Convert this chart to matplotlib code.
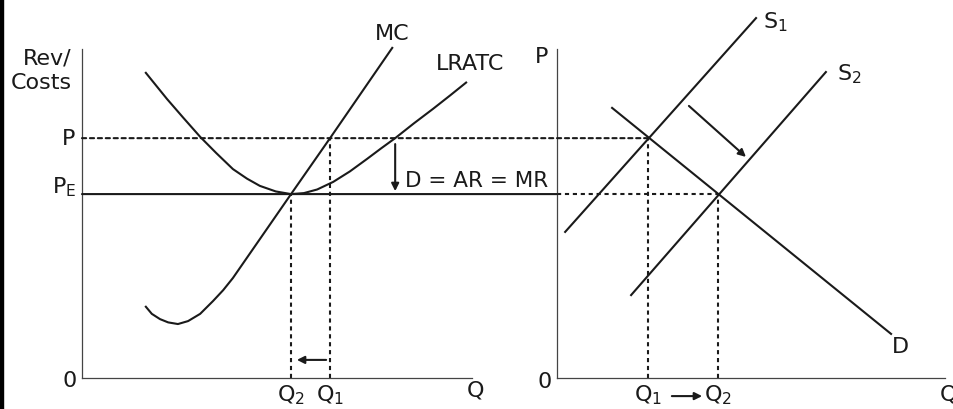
import numpy as np
import matplotlib
matplotlib.use("Agg")
import matplotlib.pyplot as plt
from matplotlib.patches import ConnectionPatch, Rectangle

plt.rcParams['font.family'] = ['DejaVu Sans']
plt.rcParams['mathtext.fontset'] = 'dejavusans'

# ---- left panel: firm (cost curves) ----
mc_q = [1.62, 1.79, 2.00, 2.21, 2.46, 2.72, 3.03, 3.36, 3.62, 3.87, 5.36, 6.36, 7.97]
mc_c = [2.19, 1.95, 1.79, 1.69, 1.64, 1.73, 1.95, 2.34, 2.67, 3.04, 5.59, 7.29, 10.06]

atc_q = [1.62, 1.90, 2.18, 2.59, 3.03, 3.44, 3.87, 4.23, 4.56, 4.97, 5.36,
         5.69, 6.03, 6.44, 6.87, 7.31, 7.67, 8.03, 8.51, 9.00, 9.44, 9.87]
atc_c = [9.30, 8.89, 8.48, 7.92, 7.33, 6.84, 6.35, 6.06, 5.84, 5.67, 5.59,
         5.62, 5.73, 5.96, 6.28, 6.66, 6.98, 7.29, 7.74, 8.18, 8.59, 9.00]

price_p = 7.29
price_pe = 5.59
firm_q2 = 5.36
firm_q1 = 6.36

# ---- right panel: market ----
s1_q = [0.21, 5.13]
s1_p = [4.44, 10.94]
s2_q = [1.91, 6.93]
s2_p = [2.52, 9.30]
d_q = [1.42, 8.61]
d_p = [8.21, 1.34]
mkt_q1 = 2.35
mkt_q2 = 4.15

INK = '#1a1a1a'
AXC = '#444444'
FS = 16
LW = 1.5
DASH = (0, (2.0, 1.8))

fig = plt.figure(figsize=(9.54, 4.10), dpi=100)
ax1 = fig.add_axes([82 / 954, 31 / 410, 390 / 954, 329 / 410])
ax2 = fig.add_axes([557 / 954, 31 / 410, 388 / 954, 329 / 410])

for ax in (ax1, ax2):
    ax.set_xlim(0, 10)
    ax.set_ylim(0, 10)
    ax.set_xticks([])
    ax.set_yticks([])
    for s in ('top', 'right'):
        ax.spines[s].set_visible(False)
    for s in ('left', 'bottom'):
        ax.spines[s].set_color(AXC)
        ax.spines[s].set_linewidth(0.9)
    ax.patch.set_alpha(0)

# left panel curves
ax1.plot(mc_q, mc_c, color=INK, lw=LW, clip_on=False, solid_capstyle='butt')
ax1.plot(atc_q, atc_c, color=INK, lw=LW, clip_on=False, solid_capstyle='butt')
ax1.plot([firm_q2, firm_q2], [0, price_pe], color=INK, lw=LW, ls=DASH)
ax1.plot([firm_q1, firm_q1], [0, price_p], color=INK, lw=LW, ls=DASH)

# lines running across both panels
fig.add_artist(ConnectionPatch((0, price_p), (mkt_q1, price_p), ax1.transData, ax2.transData,
                               color=INK, lw=LW, ls=DASH))
fig.add_artist(ConnectionPatch((0, price_pe), (0, price_pe), ax1.transData, ax2.transData,
                               color=INK, lw=LW))

# arrows in left panel
arr = dict(arrowstyle='-|>', color=INK, lw=LW, mutation_scale=11, shrinkA=0, shrinkB=0)
ax1.annotate('', xy=(8.03, 5.68), xytext=(8.03, 7.11), arrowprops=arr)
ax1.annotate('', xy=(5.51, 0.55), xytext=(6.26, 0.55), arrowprops=arr)

# left panel text
ax1.text(-0.26, 9.36, 'Rev/\nCosts', ha='right', va='center', multialignment='right',
         fontsize=FS, color=INK, linespacing=1.3)
ax1.text(-0.18, price_p, 'P', ha='right', va='center', fontsize=FS, color=INK)
ax1.text(-0.15, price_pe + 0.06, r'P$_{\mathrm{E}}$', ha='right', va='baseline', fontsize=FS, color=INK)
ax1.text(-0.13, -0.06, '0', ha='right', va='center', fontsize=FS, color=INK)
ax1.text(firm_q2, -0.12, r'Q$_2$', ha='center', va='top', fontsize=FS, color=INK)
ax1.text(firm_q1, -0.12, r'Q$_1$', ha='center', va='top', fontsize=FS, color=INK)
ax1.text(9.87, -0.06, 'Q', ha='left', va='top', fontsize=FS, color=INK)
ax1.text(7.95, 10.49, 'MC', ha='center', va='center', fontsize=FS, color=INK, clip_on=False)
ax1.text(9.95, 9.57, 'LRATC', ha='center', va='center', fontsize=FS, color=INK)
ax1.text(8.28, 6.02, 'D = AR = MR', ha='left', va='center', fontsize=15.5, color=INK)

# right panel curves
ax2.plot(s1_q, s1_p, color=INK, lw=LW, clip_on=False)
ax2.plot(s2_q, s2_p, color=INK, lw=LW, clip_on=False)
ax2.plot(d_q, d_p, color=INK, lw=LW)
ax2.plot([0, mkt_q2], [price_pe, price_pe], color=INK, lw=LW, ls=DASH)
ax2.plot([mkt_q1, mkt_q1], [0, price_p], color=INK, lw=LW, ls=DASH)
ax2.plot([mkt_q2, mkt_q2], [0, price_pe], color=INK, lw=LW, ls=DASH)
ax2.annotate('', xy=(4.87, 6.72), xytext=(3.40, 8.27), arrowprops=arr)
ax2.annotate('', xy=(3.74, -0.55), xytext=(2.96, -0.55), arrowprops=arr, annotation_clip=False)

# right panel text
ax2.text(-0.39, 9.79, 'P', ha='center', va='center', fontsize=FS, color=INK)
ax2.text(-0.31, -0.09, '0', ha='center', va='center', fontsize=FS, color=INK)
ax2.text(mkt_q1, -0.12, r'Q$_1$', ha='center', va='top', fontsize=FS, color=INK)
ax2.text(mkt_q2, -0.12, r'Q$_2$', ha='center', va='top', fontsize=FS, color=INK)
ax2.text(9.87, -0.18, 'Q', ha='left', va='top', fontsize=FS, color=INK, clip_on=False)
ax2.text(5.31, 10.67, r'S$_1$', ha='left', va='baseline', fontsize=FS, color=INK)
ax2.text(7.22, 9.09, r'S$_2$', ha='left', va='baseline', fontsize=FS, color=INK)
ax2.text(8.84, 0.97, 'D', ha='center', va='center', fontsize=FS, color=INK)

# thin black strip on the left edge of the image
fig.add_artist(Rectangle((0, 0), 3 / 954, 1, transform=fig.transFigure, color='black'))

fig.savefig('out.png', dpi=100)
